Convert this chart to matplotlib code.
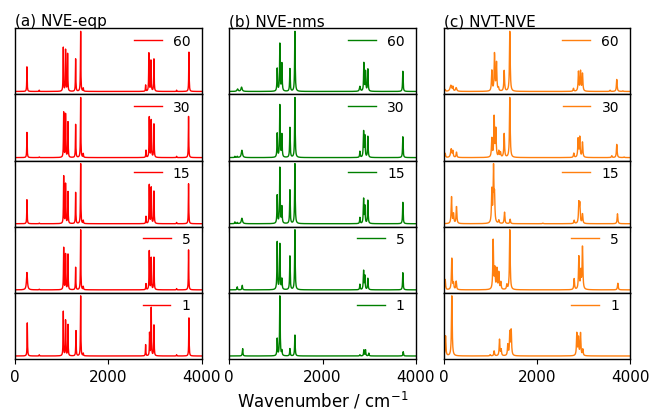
import numpy as np
import matplotlib.pyplot as plt

# wavenumber grid (cm^-1)
wn = np.arange(0, 4001, 4.0)

times = ["60", "30", "15", "5", "1"]

# peak lists: (centre, relative height[, half width])
eqp_60 = [(257, .41), (520, .02), (1035, .73), (1085, .69), (1128, .60), (1300, .52), (1407, 1.0),
          (1464, .05), (2800, .10), (2870, .71), (2914, .57), (2978, .60), (3464, .02), (3728, .63)]
eqp_30 = [(257, .42), (521, .01), (1043, .75), (1085, .72), (1135, .59), (1300, .53), (1407, 1.0),
          (1464, .06), (2807, .12), (2878, .75), (2921, .62), (2978, .62), (3464, .02), (3720, .66)]
eqp_15 = [(257, .40), (521, .01), (1043, .79), (1085, .66), (1135, .53), (1300, .50), (1407, 1.0),
          (1464, .05), (2807, .12), (2878, .72), (2921, .60), (2978, .60), (3464, .02), (3720, .64)]
eqp_5 = [(257, .28, 12), (521, .01), (1043, .70), (1085, .59), (1135, .59), (1300, .36), (1407, 1.0),
         (1464, .05), (2807, .10), (2878, .72), (2921, .53), (2978, .60), (3464, .02), (3720, .64)]
eqp_1 = [(264, .53), (521, .02), (1035, .74), (1085, .59), (1135, .52), (1307, .42), (1407, 1.0),
         (1464, .04), (2800, .18), (2885, .38), (2920, .77), (2978, .57), (3464, .02), (3728, .61)]

nms_60 = [(178, .04, 15), (264, .07, 15), (1028, .37), (1085, .79), (1128, .45), (1300, .37), (1407, 1.0),
          (2800, .08, 12), (2885, .47), (2920, .32), (2970, .39), (3720, .33)]
nms_30 = [(121, .02), (171, .02), (271, .12, 15), (1028, .39), (1085, .87), (1128, .37), (1300, .49),
          (1407, 1.0), (2800, .10), (2878, .45), (2906, .37), (2970, .37), (3720, .34)]
nms_15 = [(121, .03), (171, .02), (271, .09, 15), (1028, .46), (1085, .93), (1128, .27), (1300, .55),
          (1407, 1.0), (2800, .10), (2878, .43), (2906, .30), (2970, .41), (3720, .35)]
nms_5 = [(171, .05), (278, .08), (1028, .78), (1085, .76), (1128, .17), (1300, .55), (1407, 1.0),
         (2800, .09), (2878, .33), (2906, .24), (2970, .20), (3720, .28)]
nms_1 = [(286, .13), (1028, .28), (1085, 1.0), (1128, .08), (1300, .12), (1407, .35), (2800, .02),
         (2885, .10), (2920, .10), (2990, .05), (3728, .07)]

nvt_60 = [(36, .03), (157, .10, 20), (200, .07), (271, .06, 15), (1035, .34), (1093, .62), (1135, .47),
          (1178, .05), (1300, .34), (1421, 1.0), (2785, .05), (2892, .32), (2935, .33), (2978, .30),
          (3570, .02), (3713, .20), (3842, .01)]
nvt_30 = [(36, .07), (164, .14, 15), (200, .10), (278, .09), (1035, .31), (1085, .67), (1121, .46),
          (1185, .10), (1221, .08), (1300, .39), (1421, 1.0), (2792, .07), (2885, .31), (2920, .33),
          (2978, .26), (3606, .03), (3713, .22), (3870, .01)]
nvt_15 = [(171, .49), (214, .18), (278, .32), (1035, .60), (1071, 1.0), (1093, .46), (1185, .06),
          (1307, .21), (1428, .08), (2128, .01), (2800, .06), (2900, .36), (2920, .34), (2978, .18),
          (3728, .18)]
nvt_5 = [(36, .17), (178, .54), (214, .10), (271, .14), (1064, .81), (1100, .33), (1143, .34),
         (1185, .28), (1228, .12), (1357, .08), (1421, 1.0), (2800, .18), (2900, .54), (2942, .30),
         (2978, .73), (3735, .11)]
nvt_1 = [(43, .32), (178, 1.0), (1000, .02), (1085, .08), (1200, .26), (1235, .10), (1378, .18),
         (1421, .37), (1450, .41), (2857, .36), (2892, .28), (2935, .36), (2985, .10)]

columns = [
    ("(a) NVE-eqp", "red", 5, [eqp_60, eqp_30, eqp_15, eqp_5, eqp_1]),
    ("(b) NVE-nms", "green", 7, [nms_60, nms_30, nms_15, nms_5, nms_1]),
    ("(c) NVT-NVE", "#ff7f0e", 9, [nvt_60, nvt_30, nvt_15, nvt_5, nvt_1]),
]


def spectrum(peaks, width):
    y = np.zeros_like(wn)
    for p in peaks:
        c, h = p[0], p[1]
        w = p[2] if len(p) > 2 else width
        y += h * w**2 / ((wn - c)**2 + w**2)
    return y


plt.rcParams['axes.linewidth'] = 1.0

fig, axes = plt.subplots(5, 3, figsize=(6.51, 4.10), dpi=100, sharex=True)
fig.subplots_adjust(left=0.023, right=0.968, top=0.9285, bottom=0.122, hspace=0, wspace=0.148)

for j, (title, color, width, spectra) in enumerate(columns):
    for i, peaks in enumerate(spectra):
        ax = axes[i, j]
        ax.plot(wn, spectrum(peaks, width), color=color, lw=1, label=times[i])
        ax.set_yticks([])
        ax.set_xlim(0, 4000)
        ax.legend(loc="upper right", frameon=False, fontsize=10, borderaxespad=0,
                  bbox_to_anchor=(0.97, 1.0), handlelength=2.0)
    axes[0, j].set_title(title, loc="left", fontsize=11, pad=2)
    axes[4, j].set_xticks([0, 2000, 4000])
    axes[4, j].tick_params(labelsize=11)

axes[4, 1].set_xlabel("Wavenumber / cm$^{-1}$", fontsize=12)

fig.savefig("out.png")
